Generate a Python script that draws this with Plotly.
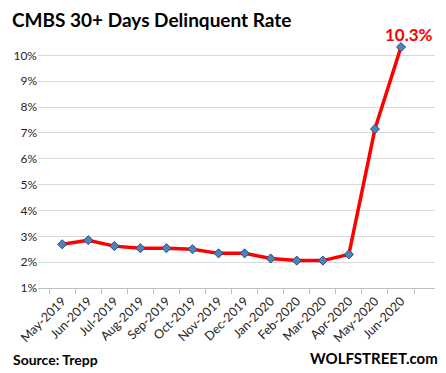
import plotly.graph_objects as go

months = ["May-2019", "Jun-2019", "Jul-2019", "Aug-2019", "Sep-2019", "Oct-2019",
          "Nov-2019", "Dec-2019", "Jan-2020", "Feb-2020", "Mar-2020", "Apr-2020",
          "May-2020", "Jun-2020"]
rates = [2.69, 2.85, 2.62, 2.54, 2.54, 2.50, 2.34, 2.34, 2.14, 2.06, 2.06, 2.30, 7.15, 10.32]
y_ticks = list(range(1, 11))
y_tick_labels = [f"{v}%" for v in y_ticks]

FONT = "Lato"
W, H = 446, 373
L, R, T, B = 38, 11, 45, 85
PH = H - T - B
PW = W - L - R

fig = go.Figure()
fig.add_trace(go.Scatter(
    x=months, y=rates, mode="lines+markers",
    line=dict(color="#ff0000", width=3.5),
    marker=dict(symbol="diamond", size=7, color="#4f81bd",
                line=dict(color="#2c4d75", width=1)),
    cliponaxis=False,
))

fig.add_annotation(x=months[-1], y=rates[-1], text="<b>10.3%</b>",
                   showarrow=False, yshift=13, xshift=8,
                   font=dict(family=FONT, size=17, color="#ff0000"))

fig.update_layout(
    width=W, height=H,
    margin=dict(l=L, r=R, t=T, b=B),
    paper_bgcolor="white", plot_bgcolor="white",
    showlegend=False,
    font=dict(family=FONT, size=12, color="#262626"),
    title=dict(text="<b>CMBS 30+ Days Delinquent Rate</b>",
               x=12 / W, xanchor="left", y=1 - 20 / H, yanchor="middle",
               font=dict(family=FONT, size=19, color="black")),
    xaxis=dict(type="category", showgrid=False, showline=True,
               linecolor="#bfbfbf", linewidth=1, ticks="outside",
               tickson="boundaries", ticklen=5, tickcolor="#bfbfbf",
               tickangle=-45, automargin=False,
               tickfont=dict(family=FONT, size=12.5, color="#262626")),
    yaxis=dict(range=[1, 10.4], tickvals=y_ticks, ticktext=y_tick_labels,
               showgrid=True, gridcolor="#d9d9d9", gridwidth=1,
               zeroline=False, showline=False, ticks="", automargin=False,
               tickfont=dict(family=FONT, size=12, color="#262626")),
)

fig.add_annotation(xref="paper", yref="paper", x=(11 - L) / PW, y=-(359 - T - PH) / PH,
                   xanchor="left", yanchor="middle", showarrow=False,
                   text="<b>Source: Trepp</b>",
                   font=dict(family=FONT, size=14, color="black"))
fig.add_annotation(xref="paper", yref="paper", x=(440 - L) / PW, y=-(358 - T - PH) / PH,
                   xanchor="right", yanchor="middle", showarrow=False,
                   text="<b>WOLFSTREET.com</b>",
                   font=dict(family=FONT, size=15, color="black"))

fig.write_html("out.html", config={"displayModeBar": False})

with open("out.html", "r", encoding="utf-8") as f:
    html = f.read()
html = html.replace("<body>", '<body style="margin:0;padding:0;overflow:hidden">', 1)
with open("out.html", "w", encoding="utf-8") as f:
    f.write(html)
